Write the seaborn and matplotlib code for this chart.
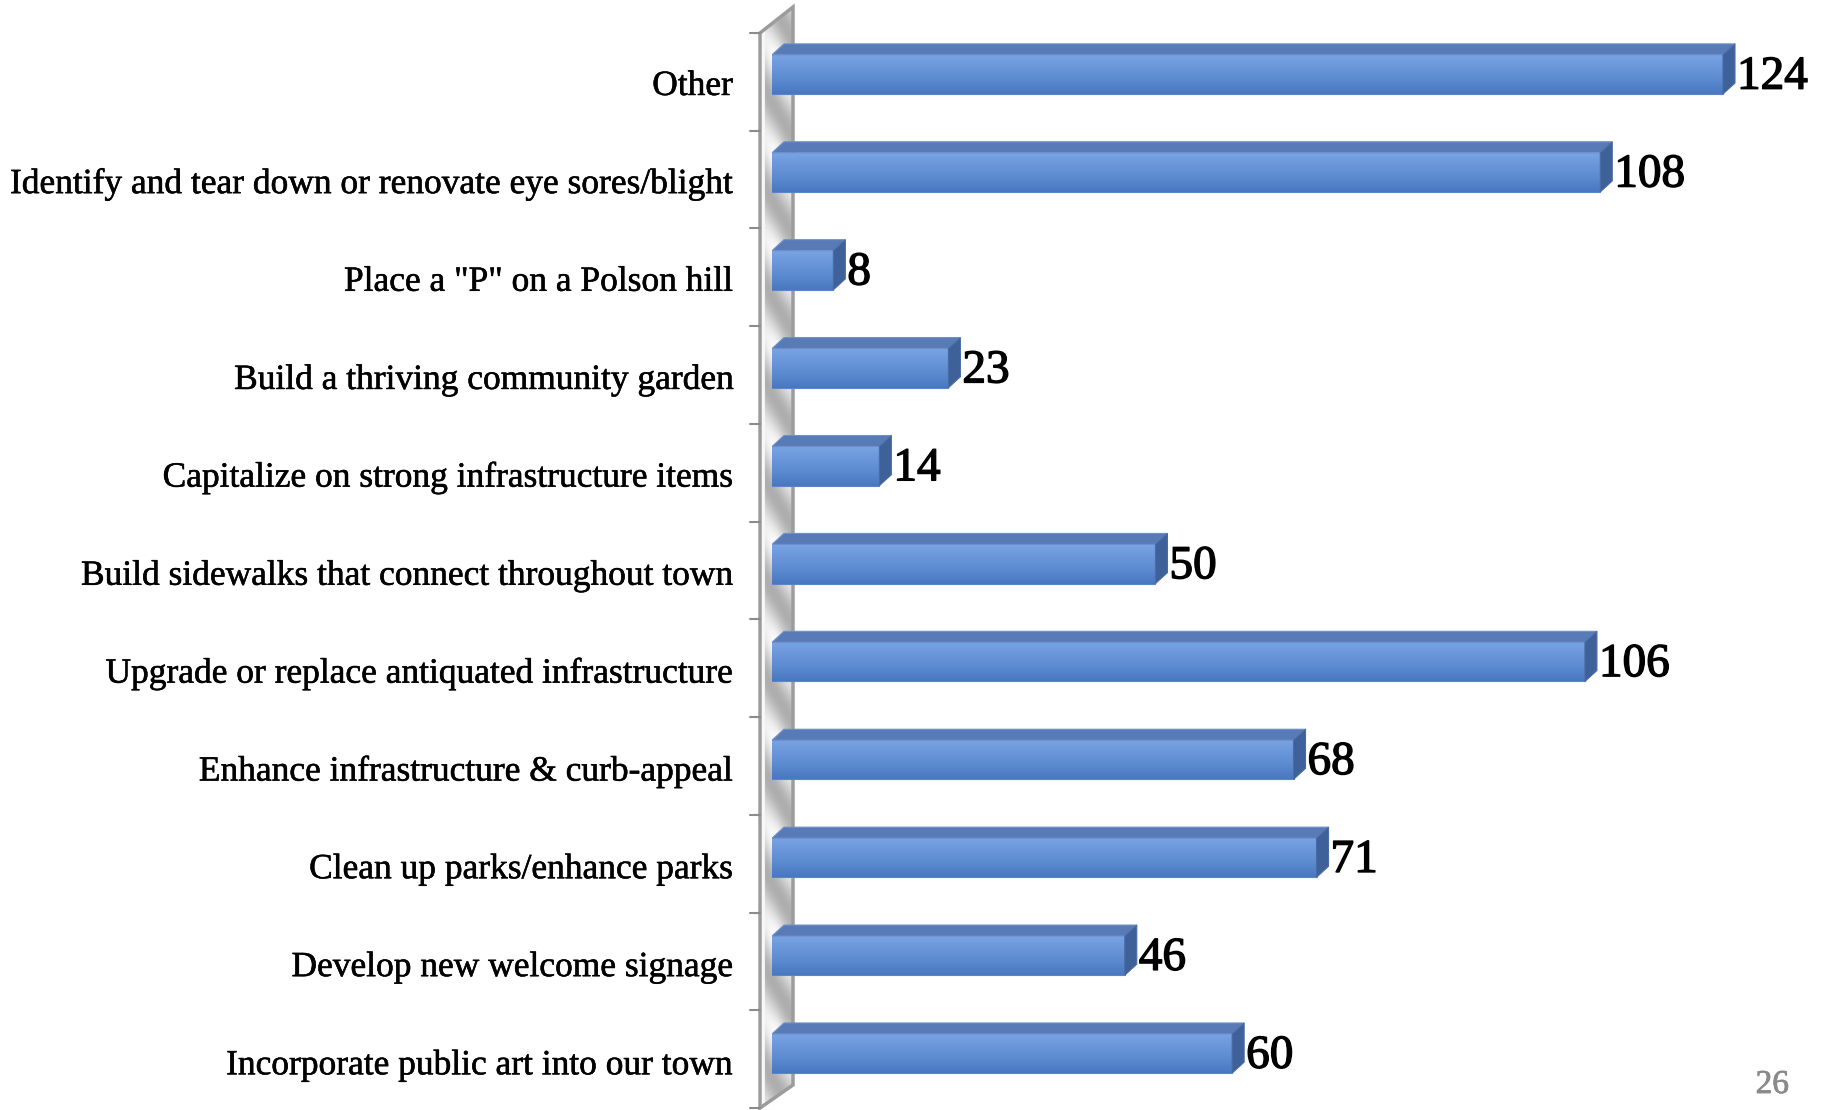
import numpy as np
import pandas as pd
import matplotlib
matplotlib.use("Agg")
import matplotlib.pyplot as plt
import matplotlib.patheffects as pe
import seaborn as sns
from matplotlib.patches import Polygon
from matplotlib.colors import LinearSegmentedColormap
from matplotlib.transforms import ScaledTranslation

# Survey responses, listed top to bottom
categories = [
    "Other",
    "Identify and tear down or renovate eye sores/blight",
    'Place a "P" on a Polson hill',
    "Build a thriving community garden",
    "Capitalize on strong infrastructure items",
    "Build sidewalks that connect throughout town",
    "Upgrade or replace antiquated infrastructure",
    "Enhance infrastructure & curb-appeal",
    "Clean up parks/enhance parks",
    "Develop new welcome signage",
    "Incorporate public art into our town",
]
counts = [124, 108, 8, 23, 14, 50, 106, 68, 71, 46, 60]
page_number = "26"

sns.set_theme(style="white")
plt.rcParams["font.family"] = ["Liberation Serif", "DejaVu Serif"]

W, H, DPI = 1829, 1110, 100
fig = plt.figure(figsize=(W / DPI, H / DPI), dpi=DPI)
fig.patch.set_facecolor("white")

# ---- shaded side wall behind the category axis ----
wall_top, wall_bot = 7, 1108
wall_ax = fig.add_axes([760 / W, (H - wall_bot) / H, 33 / W, (wall_bot - wall_top) / H])
wall_ax.set_zorder(1)
wall_ax.set_xlim(0, 1)
wall_ax.set_ylim(0, 1)
wall_ax.axis("off")
span = wall_bot - wall_top
gx = np.linspace(0, 1, 40)
gy = np.linspace(0, span, 1100)
GX, GY = np.meshgrid(gx, gy)
period = 97.7
phase = (GY / period + 0.55 * GX) % 1.0
sheen = 0.5 + 0.5 * np.cos(2 * np.pi * phase)
edge_dark = np.clip(1 - np.abs(GX - 0.55) * 1.2, 0, 1)
shade = 0.68 + 0.32 * sheen * (0.6 + 0.4 * edge_dark)
shade[:, :6] = 0.97
wall_poly_pts = [(0, (wall_bot - 33) / span), (1, 1.0),
                 (1, (wall_bot - 1085) / span), (0, 0)]
wall_clip = Polygon(wall_poly_pts, closed=True, transform=wall_ax.transAxes,
                    facecolor="none", edgecolor="none")
wall_ax.add_patch(wall_clip)
img = wall_ax.imshow(shade, cmap="gray", vmin=0, vmax=1, extent=(0, 1, 1, 0),
                     aspect="auto", origin="upper", interpolation="bilinear")
img.set_clip_path(wall_clip)
wall_ax.set_ylim(0, 1)
wall_ax.add_patch(Polygon(wall_poly_pts, closed=True, transform=wall_ax.transAxes,
                          facecolor="none", edgecolor="#9c9c9c", linewidth=2.5,
                          clip_on=False))
for k in range(12):
    yk = 33 + k * (1108 - 33) / 11
    yf = (wall_bot - yk) / span
    wall_ax.plot([-10 / 33, 0], [yf, yf], color="#8c8c8c", linewidth=1.5,
                 clip_on=False, transform=wall_ax.transAxes)

# ---- bars ----
ax = fig.add_axes([772 / W, 7.5 / H, 997 / W, 1077 / H])
ax.set_zorder(2)
ax.set_facecolor("none")
df = pd.DataFrame({"item": categories, "count": counts})
sns.barplot(data=df, x="count", y="item", orient="h", width=0.4,
            color="#6592d6", saturation=1, ax=ax, zorder=3)
xmax = 130
ax.set_xlim(0, xmax)
ax.set_ylim(len(categories) - 0.5, -0.5)

# depth of the 3-D extrusion, expressed in data units
depth_x = 12 * xmax / 997
depth_y = 11 * len(categories) / 1077

front_cmap = LinearSegmentedColormap.from_list(
    "front", ["#79a4e4", "#6a97da", "#5b89cf", "#4a78c0"])
grad = np.linspace(0, 1, 64).reshape(-1, 1)

for p in list(ax.patches):
    x0, w = p.get_x(), p.get_width()
    y0, h = p.get_y(), p.get_height()
    x1 = x0 + w
    ytop, ybot = y0, y0 + h
    p.set_edgecolor("#5a85c8")
    p.set_linewidth(0.8)
    im = ax.imshow(grad, cmap=front_cmap, extent=(x0, x1, ybot, ytop),
                   aspect="auto", origin="upper", zorder=3.5,
                   interpolation="bilinear")
    im.set_clip_path(p)
    top = Polygon([(x0, ytop), (x1, ytop), (x1 + depth_x, ytop - depth_y),
                   (x0 + depth_x, ytop - depth_y)], closed=True,
                  facecolor="#587bb8", edgecolor="#6f8fc6", linewidth=0.8, zorder=3.6)
    side = Polygon([(x1, ytop), (x1, ybot), (x1 + depth_x, ybot - depth_y),
                    (x1 + depth_x, ytop - depth_y)], closed=True,
                   facecolor="#3f6199", edgecolor="#4a6ca6", linewidth=0.8, zorder=3.6)
    ax.add_patch(top)
    ax.add_patch(side)

ax.set_xlim(0, xmax)
ax.set_ylim(len(categories) - 0.5, -0.5)

# value labels to the right of each bar, slightly heavier strokes
for i, v in enumerate(counts):
    ax.annotate(str(v), xy=(v, i), xytext=(14 * 0.72, -3 * 0.72),
                textcoords="offset points", ha="left", va="center",
                fontsize=34, color="black", zorder=5,
                path_effects=[pe.withStroke(linewidth=1.0, foreground="black")])

ax.set_xlabel("")
ax.set_ylabel("")
ax.set_xticks([])
ax.tick_params(axis="y", length=0, pad=28, labelsize=25.5, labelcolor="black")
for sp in ax.spines.values():
    sp.set_visible(False)
shift = ScaledTranslation(0, -8 / DPI, fig.dpi_scale_trans)
for lab in ax.get_yticklabels():
    lab.set_transform(lab.get_transform() + shift)
    lab.set_path_effects([pe.withStroke(linewidth=0.4, foreground="black")])

fig.text(1789 / W, 17 / H, page_number, ha="right", va="baseline",
         fontsize=24, color="#8a8a8a",
         path_effects=[pe.withStroke(linewidth=0.6, foreground="#8a8a8a")])

fig.savefig("out.png", dpi=DPI, facecolor="white")
